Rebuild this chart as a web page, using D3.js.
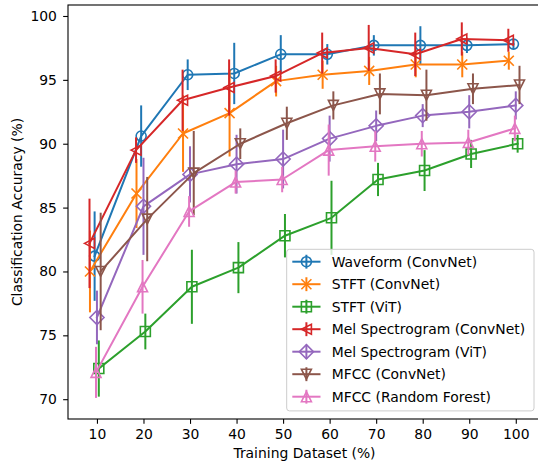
<!DOCTYPE html>
<html>
<head>
<meta charset="utf-8">
<script src="https://cdnjs.cloudflare.com/ajax/libs/d3/7.8.5/d3.min.js"></script>
<style>
body{margin:0;background:#fff;}
svg{display:block;font-family:"DejaVu Sans",sans-serif;}
</style>
</head>
<body>
<svg id="chart" width="538" height="468"></svg>
<script>
// training set size (%)
const pct = [10,20,30,40,50,60,70,80,90,100];

const seriesNames = ["Waveform (ConvNet)","STFT (ConvNet)","STFT (ViT)","Mel Spectrogram (ConvNet)",
    "Mel Spectrogram (ViT)","MFCC (ConvNet)","MFCC (Random Forest)"];

// mean accuracy per series
const waveformConv = [81.2,90.6,95.4,95.5,97.0,97.0,97.7,97.7,97.7,97.8];
const stftConv     = [80.0,86.1,90.8,92.4,94.9,95.4,95.7,96.2,96.2,96.5];
const stftVit      = [72.4,75.3,78.8,80.3,82.8,84.2,87.2,87.9,89.2,90.0];
const melConv      = [82.2,89.5,93.4,94.4,95.3,97.1,97.5,97.0,98.2,98.1];
const melVit       = [76.4,85.1,87.6,88.4,88.8,90.4,91.4,92.2,92.5,93.0];
const mfccConv     = [80.0,84.1,87.7,90.0,91.6,93.0,93.9,93.8,94.3,94.6];
const mfccRf       = [72.1,78.8,84.7,87.0,87.2,89.5,89.8,90.0,90.1,91.2];

// std (error bar half length)
const waveformErr = [3.5,2.4,1.2,2.4,1.5,0.8,0.8,1.5,0.6,0.4];
const stftConvErr = [3.2,2.7,3.0,3.4,1.2,1.1,1.1,1.0,1.0,0.7];
const stftVitErr  = [2.2,1.4,2.9,2.0,1.7,2.9,1.3,1.6,1.1,0.7];
const melConvErr  = [3.5,1.0,2.4,2.2,1.3,1.6,1.8,1.7,1.3,0.9];
const melVitErr   = [2.1,3.8,2.2,2.3,2.3,1.8,1.2,0.9,1.3,1.1];
const mfccConvErr = [4.6,3.3,3.3,1.2,1.3,1.1,1.6,2.0,1.2,1.5];
const mfccRfErr   = [2.0,2.1,1.2,0.9,1.0,2.0,1.2,1.0,1.0,1.0];

// small x dodge of each series (in % units)
const dodge = [-0.5,-1.5,0.4,-1.6,0,0.8,-0.2];

const xTicks = [10,20,30,40,50,60,70,80,90,100];
const yTicks = [70,75,80,85,90,95,100];

const means = [waveformConv,stftConv,stftVit,melConv,melVit,mfccConv,mfccRf];
const errs  = [waveformErr,stftConvErr,stftVitErr,melConvErr,melVitErr,mfccConvErr,mfccRfErr];
const colors = ["#1f77b4","#ff7f0e","#2ca02c","#d62728","#9467bd","#8c564b","#e377c2"];
const markers = ["o","x","s","<","D","v","^"];

const FS = 13.9;
const ML = 68, MR = 541, MT = 5, MB = 419;

const svg = d3.select("#chart");
const x = d3.scaleLinear().domain([3.78,105.42]).range([ML,MR]);
const y = d3.scaleLinear().domain([68.45,100.86]).range([MB,MT]);

// matplotlib-like unfilled marker shapes, ms = marker size in px
function markerPath(type, ms){
    const r = ms/2;
    switch(type){
        case "o": return `M${r},0A${r},${r} 0 1,1 ${-r},0A${r},${r} 0 1,1 ${r},0Z`;
        case "s": return `M${-r},${-r}H${r}V${r}H${-r}Z`;
        case "D": { const a = r*Math.SQRT2; return `M0,${-a}L${a},0L0,${a}L${-a},0Z`; }
        case "x": return `M${-r},${-r}L${r},${r}M${-r},${r}L${r},${-r}`;
        case "^": return `M0,${-r}L${r},${r}L${-r},${r}Z`;
        case "v": return `M0,${r}L${r},${-r}L${-r},${-r}Z`;
        case "<": return `M${-r},0L${r},${-r}L${r},${r}Z`;
    }
}

// axes
const xAxis = d3.axisBottom(x).tickValues(xTicks).tickSize(4.86).tickSizeOuter(0).tickPadding(5.2);
const yAxis = d3.axisLeft(y).tickValues(yTicks).tickSize(4.86).tickSizeOuter(0).tickPadding(6.2);

const gx = svg.append("g").attr("transform",`translate(0,${MB})`).call(xAxis);
const gy = svg.append("g").attr("transform",`translate(${ML},0)`).call(yAxis);
[gx,gy].forEach(g=>{
    g.select(".domain").remove();
    g.attr("font-family",null).attr("font-size",null);
    g.selectAll("line").attr("stroke","#000").attr("stroke-width",1.1);
    g.selectAll("text").attr("fill","#000").style("font-size",FS+"px");
});

// data
means.forEach((m,i)=>{
    const pts = pct.map((p,j)=>({x:p+dodge[i], y:m[j], e:errs[i][j]}));
    const g = svg.append("g");
    g.append("path")
        .attr("d", d3.line().x(d=>x(d.x)).y(d=>y(d.y))(pts))
        .attr("fill","none").attr("stroke",colors[i]).attr("stroke-width",2)
        .attr("stroke-linejoin","round").attr("stroke-linecap","square");
    g.selectAll("path.mk").data(pts).join("path").attr("class","mk")
        .attr("transform",d=>`translate(${x(d.x)},${y(d.y)})`)
        .attr("d",markerPath(markers[i],10))
        .attr("fill","none").attr("stroke",colors[i]).attr("stroke-width",1.6);
    g.selectAll("line.eb").data(pts).join("line").attr("class","eb")
        .attr("x1",d=>x(d.x)).attr("x2",d=>x(d.x))
        .attr("y1",d=>y(d.y+d.e)).attr("y2",d=>y(d.y-d.e))
        .attr("stroke",colors[i]).attr("stroke-width",2);
});

// frame
svg.append("rect").attr("x",ML).attr("y",MT).attr("width",MR-ML).attr("height",MB-MT)
    .attr("fill","none").attr("stroke","#000").attr("stroke-width",1.1);

// labels
svg.append("text").attr("x",(ML+MR)/2).attr("y",458).attr("text-anchor","middle")
    .style("font-size",FS+"px").attr("fill","#000").text("Training Dataset (%)");
svg.append("text").attr("transform",`translate(21.5,${(MT+MB)/2}) rotate(-90)`)
    .attr("text-anchor","middle").style("font-size",FS+"px").attr("fill","#000")
    .text("Classification Accuracy (%)");

// legend
const lg = svg.append("g");
lg.append("rect").attr("x",286.7).attr("y",249.3).attr("width",247.3).attr("height",161.6)
    .attr("rx",2.8).attr("fill","#fff").attr("fill-opacity",0.8)
    .attr("stroke","#cccccc").attr("stroke-width",1);
seriesNames.forEach((name,i)=>{
    const cy = 261.7 + i*22.5;
    const row = lg.append("g");
    row.append("line").attr("x1",292.3).attr("x2",320.5).attr("y1",cy).attr("y2",cy)
        .attr("stroke",colors[i]).attr("stroke-width",2);
    row.append("path").attr("transform",`translate(306.4,${cy})`).attr("d",markerPath(markers[i],10))
        .attr("fill","none").attr("stroke",colors[i]).attr("stroke-width",1.6);
    row.append("line").attr("x1",306.4).attr("x2",306.4).attr("y1",cy-FS/2).attr("y2",cy+FS/2)
        .attr("stroke",colors[i]).attr("stroke-width",2);
    row.append("text").attr("x",331.7).attr("y",cy+5).style("font-size",FS+"px")
        .attr("fill","#000").text(name);
});
</script>
</body>
</html>
